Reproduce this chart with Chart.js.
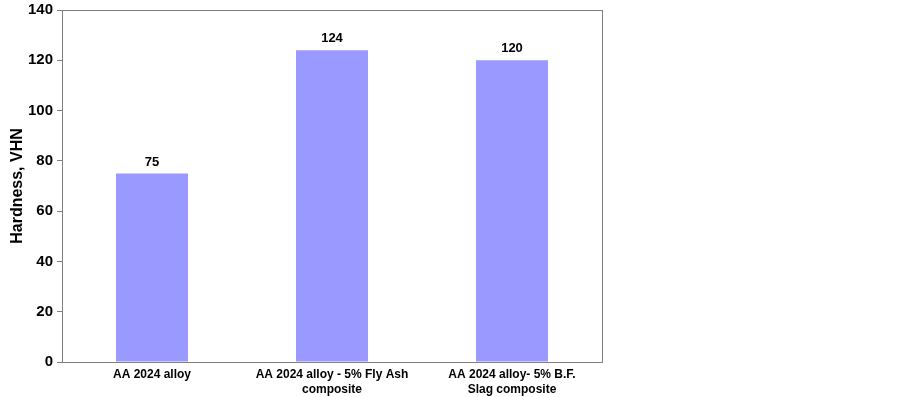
<!DOCTYPE html>
<html>
<head>
<meta charset="utf-8">
<script src="https://cdn.jsdelivr.net/npm/chart.js@4/dist/chart.umd.min.js"></script>
<style>
  html, body { margin: 0; padding: 0; background: #fff; }
  #wrap { width: 903px; height: 397px; }
</style>
</head>
<body>
<div id="wrap"><canvas id="chart" width="903" height="397"></canvas></div>
<script>
// Hardness data
const categories = [
    ['AA 2024 alloy'],
    ['AA 2024 alloy - 5% Fly Ash', 'composite'],
    ['AA 2024 alloy- 5% B.F.', 'Slag composite']
];
const hardness = [75, 124, 120];
const yTicks = [0, 20, 40, 60, 80, 100, 120, 140];

const FONT = "'Liberation Sans', Arial, sans-serif";

// Draw value labels above bars and the frame round the plot
const barLabels = {
    id: 'barLabels',
    afterDatasetsDraw(chart) {
        const ctx = chart.ctx;
        const meta = chart.getDatasetMeta(0);
        ctx.save();
        ctx.font = 'bold 13px ' + FONT;
        ctx.fillStyle = '#000';
        ctx.textAlign = 'center';
        ctx.textBaseline = 'bottom';
        meta.data.forEach((bar, i) => {
            ctx.fillText(String(hardness[i]), bar.x, bar.y - 5);
        });
        ctx.restore();
    },
    afterDraw(chart) {
        const a = chart.chartArea;
        const ctx = chart.ctx;
        ctx.save();
        ctx.strokeStyle = '#808080';
        ctx.lineWidth = 1;
        ctx.strokeRect(Math.round(a.left) + 0.5, Math.round(a.top) + 0.5,
            Math.round(a.right - a.left), Math.round(a.bottom - a.top));
        ctx.restore();
    }
};

new Chart(document.getElementById('chart'), {
    type: 'bar',
    data: {
        labels: categories,
        datasets: [{
            data: hardness,
            backgroundColor: '#9999ff',
            borderWidth: 0,
            barPercentage: 0.4,
            categoryPercentage: 1.0
        }]
    },
    options: {
        responsive: false,
        animation: false,
        layout: { padding: { left: 0, right: 301, top: 7, bottom: 0 } },
        plugins: {
            legend: { display: false },
            tooltip: { enabled: false }
        },
        scales: {
            x: {
                afterFit(scale) { scale.height = 35; },
                grid: { display: false, drawTicks: false },
                border: { display: true, color: '#808080' },
                ticks: {
                    color: '#000',
                    font: { family: FONT, size: 12, weight: 'bold', lineHeight: 1.25 },
                    maxRotation: 0,
                    autoSkip: false,
                    padding: 5
                }
            },
            y: {
                min: 0,
                max: 140,
                afterFit(scale) { scale.width = 62; },
                afterBuildTicks(scale) { scale.ticks = yTicks.map(v => ({ value: v })); },
                grid: {
                    drawOnChartArea: false,
                    drawTicks: true,
                    tickLength: 5,
                    color: '#808080'
                },
                border: { display: true, color: '#808080' },
                ticks: {
                    color: '#000',
                    font: { family: FONT, size: 15, weight: 'bold', lineHeight: 0.8 },
                    padding: 4
                },
                title: {
                    display: true,
                    text: 'Hardness, VHN',
                    color: '#000',
                    font: { family: FONT, size: 16, weight: 'bold' },
                    padding: { top: 8, bottom: 0 }
                }
            }
        }
    },
    plugins: [barLabels]
});
</script>
</body>
</html>
